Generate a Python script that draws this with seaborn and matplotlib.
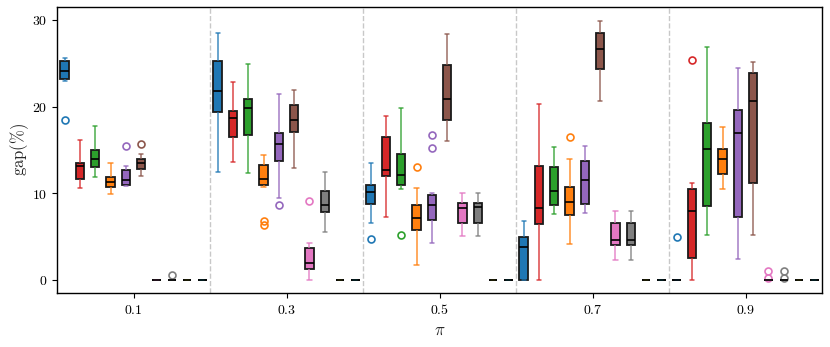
import numpy as np
import pandas as pd
import matplotlib
matplotlib.use("Agg")
import matplotlib.pyplot as plt
import seaborn as sns

# ---------------- data ----------------
pis = ["0.1", "0.3", "0.5", "0.7", "0.9"]
methods = ["M1", "M2", "M3", "M4", "M5", "M6", "M7", "M8", "M9", "M10"]
palette = ["#1f77b4", "#d62728", "#2ca02c", "#ff7f0e", "#9467bd",
           "#8c564b", "#e377c2", "#7f7f7f", "#bcbd22", "#17becf"]

# per pi: (lower whisker, Q1, median, Q3, upper whisker)
m1_stats = [(22.9, 23.2, 24.1, 25.3, 25.6), (12.4, 19.35, 21.8, 25.3, 28.5),
            (6.6, 8.7, 10.1, 10.9, 13.45), (0, 0, 3.77, 4.96, 6.8), (0, 0, 0, 0, 0)]
m1_out = [[18.5], [], [4.7], [], [4.9]]

m2_stats = [(10.65, 11.65, 13.2, 13.5, 16.1), (13.6, 16.5, 18.65, 19.5, 22.8),
            (7.3, 12.0, 12.7, 16.5, 18.9), (0, 6.5, 8.35, 13.1, 20.35), (0, 2.5, 7.96, 10.5, 11.2)]
m2_out = [[], [], [], [], [25.35]]

m3_stats = [(11.85, 13.05, 14.0, 15.0, 17.8), (12.3, 16.7, 19.8, 20.85, 24.9),
            (10.45, 10.9, 12.1, 14.5, 19.8), (7.6, 8.65, 10.2, 13.0, 15.35), (5.2, 8.5, 15.07, 18.15, 26.9)]
m3_out = [[], [], [5.2], [], []]

m4_stats = [(9.9, 10.7, 11.27, 11.85, 13.5), (10.7, 10.9, 11.65, 13.3, 14.4),
            (1.73, 5.8, 7.1, 8.65, 10.57), (4.15, 7.5, 9.0, 10.77, 13.96), (10.46, 12.27, 13.9, 15.1, 17.7)]
m4_out = [[], [6.8, 6.35], [13.0], [16.45], []]

m5_stats = [(10.8, 10.9, 11.5, 12.65, 13.1), (9.5, 13.7, 15.7, 16.9, 21.4),
            (4.3, 6.9, 8.65, 9.85, 10.0), (7.77, 8.73, 11.54, 13.77, 15.46), (2.4, 7.2, 16.96, 19.6, 24.5)]
m5_out = [[15.5], [8.6], [15.2, 16.7], [], []]

m6_stats = [(12.0, 12.8, 13.5, 13.9, 14.5), (12.9, 17.1, 18.4, 20.2, 21.9),
            (16.0, 18.5, 20.9, 24.8, 28.4), (20.6, 24.3, 26.65, 28.46, 29.9), (5.2, 11.2, 20.6, 23.85, 25.2)]
m6_out = [[15.65], [], [], [], []]

m7_stats = [(0, 0, 0, 0, 0), (0, 1.3, 1.9, 3.65, 4.3),
            (5.1, 6.55, 8.3, 8.85, 10.0), (2.27, 4.04, 4.65, 6.58, 7.9), (0, 0, 0, 0, 0)]
m7_out = [[], [9.15], [], [], [0.2, 1.05]]

m8_stats = [(0, 0, 0, 0, 0), (5.5, 7.8, 8.65, 10.3, 12.45),
            (5.1, 6.55, 8.4, 8.85, 10.0), (2.27, 4.04, 4.65, 6.58, 7.9), (0, 0, 0, 0, 0)]
m8_out = [[0.55], [], [], [], [0.2, 1.05]]

m9_stats = [(0, 0, 0, 0, 0)] * 5
m9_out = [[], [], [], [], []]

m10_stats = [(0, 0, 0, 0, 0)] * 5
m10_out = [[], [], [], [], []]

all_stats = [m1_stats, m2_stats, m3_stats, m4_stats, m5_stats,
             m6_stats, m7_stats, m8_stats, m9_stats, m10_stats]
all_out = [m1_out, m2_out, m3_out, m4_out, m5_out,
           m6_out, m7_out, m8_out, m9_out, m10_out]

# Build a sample per box whose quartiles / whiskers reproduce the read statistics
rows = []
for m, stats, outs in zip(methods, all_stats, all_out):
    for p, st, ol in zip(pis, stats, outs):
        vals = []
        for v in st:
            vals += [v] * 20
        vals += list(ol)
        for v in vals:
            rows.append((p, m, v))
df = pd.DataFrame(rows, columns=["pi", "method", "gap"])

# ---------------- plot ----------------
sns.set_theme(style="ticks")
plt.rcParams["mathtext.fontset"] = "cm"
plt.rcParams["font.family"] = ["DejaVu Serif"]

fig, ax = plt.subplots(figsize=(8.3, 3.47), dpi=100)
fig.subplots_adjust(left=0.0687, right=0.9904, top=0.980, bottom=0.156)

sns.boxplot(data=df, x="pi", y="gap", hue="method", order=pis, hue_order=methods,
            palette=palette, saturation=1, width=1.0, gap=0.45, linecolor="#1a1a1a",
            linewidth=1.3, fliersize=5, whis=1.5, legend=False, ax=ax,
            flierprops=dict(marker="o", markerfacecolor="none", markeredgewidth=1.2))

for cont, col in zip(ax.containers, palette):
    for ln in list(cont.whiskers) + list(cont.caps):
        ln.set_color(col)
        ln.set_alpha(0.85)
        ln.set_linewidth(1.1)
    for ln in cont.fliers:
        ln.set_markeredgecolor(col)
        ln.set_markerfacecolor("none")
    for ln in cont.medians:
        ln.set_color("black")
        ln.set_linewidth(1.2)

for xs in [0.5, 1.5, 2.5, 3.5]:
    ax.axvline(xs, color="#c8c8c8", ls="--", lw=1.0, zorder=0)

ax.set_xlim(-0.5, 4.5)
ax.set_ylim(-1.5, 31.5)
ax.set_yticks([0, 10, 20, 30])
ax.set_yticklabels([r"$%d$" % t for t in [0, 10, 20, 30]], fontsize=10)
ax.set_xticks(range(len(pis)))
ax.set_xticklabels([r"$%s$" % p for p in pis], fontsize=10)
ax.set_xlabel(r"$\pi$", fontsize=12)
ax.set_ylabel(r"$\mathrm{gap}(\%)$", fontsize=12, labelpad=1)
for sp in ax.spines.values():
    sp.set_visible(True)
    sp.set_color("black")
    sp.set_linewidth(1.0)
ax.tick_params(axis="both", length=3.5, width=0.8, color="black", labelcolor="black")

fig.savefig("out.png", dpi=100)
